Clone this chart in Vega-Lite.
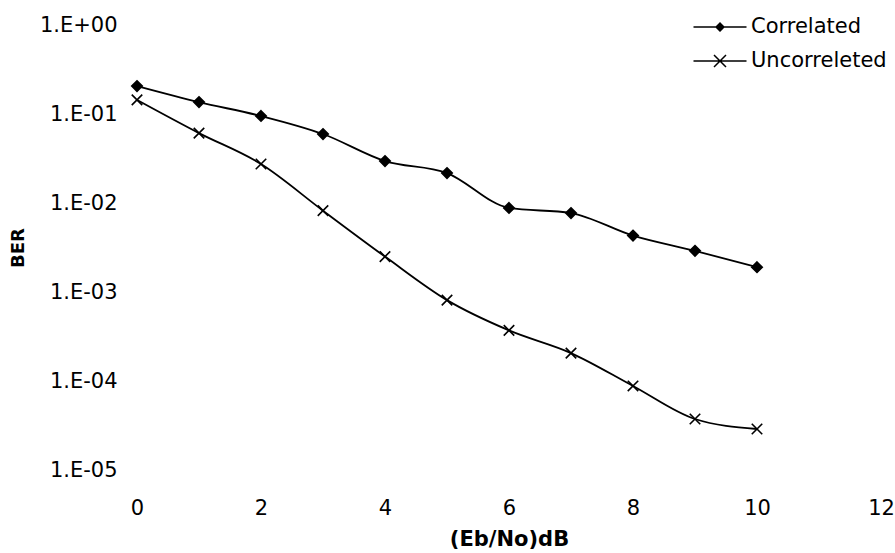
{
  "$schema": "https://vega.github.io/schema/vega-lite/v6.json",
  "width": 744,
  "height": 445,
  "autosize": {"type": "none"},
  "padding": {"left": 137, "top": 25, "right": 14, "bottom": 83},
  "background": "white",
  "config": {
    "view": {"stroke": null},
    "font": "DejaVu Sans",
    "axis": {"labelFont": "DejaVu Sans", "titleFont": "DejaVu Sans", "labelColor": "black", "titleColor": "black", "grid": false, "domain": false, "ticks": false, "labelFlush": false, "labelOverlap": false},
    "legend": {"labelFont": "DejaVu Sans"}
  },
  "data": {
    "values": [
      {"ebno": 0, "ber": 0.206, "series": "Correlated"},
      {"ebno": 1, "ber": 0.136, "series": "Correlated"},
      {"ebno": 2, "ber": 0.095, "series": "Correlated"},
      {"ebno": 3, "ber": 0.0596, "series": "Correlated"},
      {"ebno": 4, "ber": 0.0296, "series": "Correlated"},
      {"ebno": 5, "ber": 0.0217, "series": "Correlated"},
      {"ebno": 6, "ber": 0.0088, "series": "Correlated"},
      {"ebno": 7, "ber": 0.0077, "series": "Correlated"},
      {"ebno": 8, "ber": 0.0043, "series": "Correlated"},
      {"ebno": 9, "ber": 0.0029, "series": "Correlated"},
      {"ebno": 10, "ber": 0.0019, "series": "Correlated"},
      {"ebno": 0, "ber": 0.144, "series": "Uncorreleted"},
      {"ebno": 1, "ber": 0.061, "series": "Uncorreleted"},
      {"ebno": 2, "ber": 0.0274, "series": "Uncorreleted"},
      {"ebno": 3, "ber": 0.0082, "series": "Uncorreleted"},
      {"ebno": 4, "ber": 0.0025, "series": "Uncorreleted"},
      {"ebno": 5, "ber": 0.00081, "series": "Uncorreleted"},
      {"ebno": 6, "ber": 0.00037, "series": "Uncorreleted"},
      {"ebno": 7, "ber": 0.000206, "series": "Uncorreleted"},
      {"ebno": 8, "ber": 0.000088, "series": "Uncorreleted"},
      {"ebno": 9, "ber": 0.0000374, "series": "Uncorreleted"},
      {"ebno": 10, "ber": 0.0000289, "series": "Uncorreleted"}
    ]
  },
  "encoding": {
    "x": {
      "field": "ebno", "type": "quantitative",
      "scale": {"domain": [0, 12], "nice": false, "zero": false},
      "axis": {"values": [0, 2, 4, 6, 8, 10, 12], "labelFontSize": 21, "labelPadding": 27, "title": "(Eb/No)dB", "titleFontSize": 21, "titleFontWeight": "bold", "titlePadding": 10}
    },
    "y": {
      "field": "ber", "type": "quantitative",
      "scale": {"type": "log", "domain": [0.00001, 1], "nice": false},
      "axis": {
        "values": [0.00001, 0.0001, 0.001, 0.01, 0.1, 1],
        "labelExpr": "datum.value >= 1 ? '1.E+00' : '1.E-0' + round(-log(datum.value)/LN10)",
        "labelFontSize": 21, "labelPadding": 20,
        "title": "BER", "titleFontSize": 18, "titleFontWeight": "bold", "titlePadding": 12
      }
    }
  },
  "layer": [
    {
      "mark": {"type": "line", "interpolate": "monotone", "color": "black", "strokeWidth": 1.8},
      "encoding": {"detail": {"field": "series"}}
    },
    {
      "mark": {"type": "point", "stroke": "black", "strokeWidth": 1.6, "opacity": 1},
      "encoding": {
        "shape": {
          "field": "series", "type": "nominal",
          "scale": {"domain": ["Correlated", "Uncorreleted"], "range": ["M0,-1L1,0L0,1L-1,0Z", "M-1,-1L1,1M-1,1L1,-1"]},
          "legend": null
        },
        "fill": {
          "field": "series", "type": "nominal",
          "scale": {"domain": ["Correlated", "Uncorreleted"], "range": ["black", "transparent"]},
          "legend": null
        },
        "size": {"value": 110}
      }
    },
    {
      "transform": [{"filter": "false"}],
      "mark": {"type": "point", "filled": true, "color": "black", "stroke": "black", "strokeWidth": 1.6, "opacity": 1},
      "encoding": {
        "shape": {
          "field": "series", "type": "nominal",
          "scale": {"domain": ["Correlated", "Uncorreleted"], "range": [
            "M-2.65,-0.08H2.65V0.08H-2.65Z M0,-0.5L0.5,0L0,0.5L-0.5,0Z",
            "M-2.65,-0.08H2.65V0.08H-2.65Z M-0.547,-0.653L0.653,0.547L0.547,0.653L-0.653,-0.547Z M-0.653,0.547L0.547,-0.653L0.653,-0.547L-0.547,0.653Z"
          ]},
          "legend": {
            "title": null,
            "orient": "none",
            "legendX": 572,
            "legendY": -9,
            "padding": 0,
            "rowPadding": 13,
            "symbolSize": 400,
            "symbolStrokeColor": "black",
            "symbolFillColor": "black",
            "symbolStrokeWidth": 1.6,
            "symbolOpacity": 1,
            "labelFontSize": 21,
            "labelColor": "black",
            "labelOffset": 20
          }
        }
      }
    }
  ],
  "resolve": {"scale": {"shape": "independent"}, "legend": {"shape": "independent"}}
}
